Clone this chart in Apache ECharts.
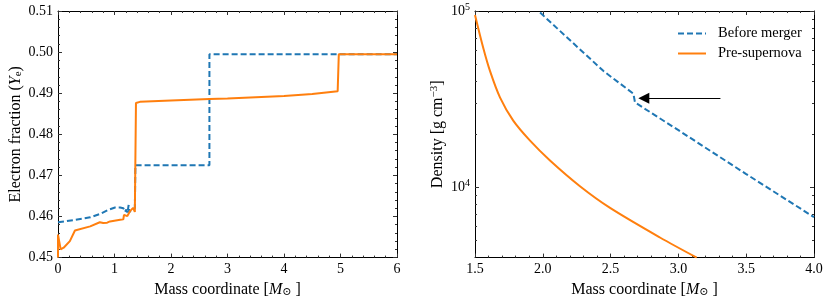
<!DOCTYPE html>
<html><head><meta charset="utf-8">
<script src="https://cdn.jsdelivr.net/npm/echarts@6/dist/echarts.min.js"></script>
<style>html,body{margin:0;padding:0;background:#fff}#c{width:831px;height:303px}</style>
</head><body><div id="c"></div>
<script>
// ---- Data ----
const yeBeforeMerger = [
  [0,0.4586],[0.27,0.4591],[0.57,0.4598],[0.74,0.4606],[0.89,0.4616],[1.01,0.4622],[1.10,0.4622],
  [1.156,0.4620],[1.186,0.4611],[1.21,0.4617],[1.23,0.4609],[1.25,0.4628],[1.26,0.4610],
  [1.30,0.4617],[1.36,0.4620],[1.37,0.4725],[2.68,0.4725],[2.68,0.4995],[6,0.4995]
];
const yePreSupernova = [
  [0,0.4500],[0,0.4556],[0.047,0.4520],[0.10,0.4524],[0.21,0.4540],[0.30,0.4566],[0.57,0.4576],
  [0.74,0.4586],[0.80,0.4584],[0.87,0.4585],[0.92,0.4588],[1.10,0.4592],[1.156,0.4593],
  [1.168,0.4604],[1.227,0.4601],[1.274,0.4613],[1.30,0.4610],[1.33,0.4621],[1.36,0.4611],
  [1.37,0.4615],[1.38,0.4876],[1.45,0.4879],[2.0,0.4882],[2.68,0.4886],[3.0,0.4887],
  [4.0,0.4893],[4.5,0.4898],[4.95,0.4905],[4.97,0.4995],[6,0.4995]
];
const rhoBeforeMerger = [
  [1.98,98000],[2.10,80500],[2.26,62000],[2.45,45500],[2.668,34000],[2.68,30300],
  [3.0,21100],[3.5,11900],[4.0,6780]
];
const rhoPreSupernova = [
  [1.50,95000],[1.561,61700],[1.611,45600],[1.684,32400],[1.782,23900],
  [1.906,18400],[2.053,14200],[2.274,10150],[2.496,7650],[2.864,5200],[3.135,4000]
];
const arrowFrom = [3.31, 32000];
const arrowTo = [2.745, 32000];
const yeTicks = {min:0.45, max:0.51, interval:0.01};
const massTicksLeft = {min:0, max:6, interval:1};
const massTicksRight = {min:1.5, max:4.0, interval:0.5};
const rhoRange = {min:4000, max:100000};
const rhoMajor = [10000, 100000];
const rhoMinor = [5000,6000,7000,8000,9000,20000,30000,40000,50000,60000,70000,80000,90000];
const names = ['Before merger','Pre-supernova'];

// ---- Styles ----
const FONT = "'Liberation Serif','DejaVu Serif',serif";
const BLUE = '#1f77b4', ORANGE = '#ff7f0e';
const TICKC = '#333';
function axisLine(){ return {show:true, onZero:false, lineStyle:{color:'#000', width:1}}; }
function majorTick(){ return {show:true, inside:true, length:4, lineStyle:{color:TICKC, width:1}}; }
function minorTick(){ return {show:true, splitNumber:5, length:2, lineStyle:{color:TICKC, width:1}}; }
function tickLabel(extra){ return Object.assign({show:true, color:'#000', fontFamily:FONT, fontSize:14, margin:5}, extra||{}); }
function nameStyle(){ return {color:'#000', fontFamily:FONT, fontSize:16,
  rich:{i:{fontFamily:FONT,fontSize:16,fontStyle:'italic',color:'#000'},
        sub:{fontFamily:FONT,fontSize:11,color:'#000',verticalAlign:'bottom',padding:[6,0,0,0]},
        sup:{fontFamily:FONT,fontSize:11,color:'#000',verticalAlign:'top',padding:[0,0,6,0]}}}; }
const massName = 'Mass coordinate [{i|M}{sub|\u2299} ]';

function valX(grid, r, pos, show, fmt){
  return {type:'value', gridIndex:grid, position:pos, min:r.min, max:r.max, interval:r.interval,
    axisLine:axisLine(), axisTick:majorTick(), minorTick:minorTick(), splitLine:{show:false},
    axisLabel: show ? tickLabel({formatter:fmt}) : {show:false},
    name: show ? massName : '', nameLocation:'middle', nameGap:22, nameTextStyle:nameStyle()};
}
function logMinorY(pos){
  return {type:'log', gridIndex:1, position:pos, min:rhoRange.min, max:rhoRange.max, logBase:10,
     axisLine:{show:false}, splitLine:{show:false}, minorTick:{show:false},
     axisTick:{show:true, inside:true, length:2, customValues:rhoMinor, lineStyle:{color:TICKC,width:1}},
     axisLabel:{show:false}};
}

const option = {
  animation:false,
  backgroundColor:'#fff',
  grid:[
    {left:58, right:434, top:11, bottom:43},
    {left:475, right:17, top:11, bottom:43}
  ],
  legend:{
    data:names, orient:'vertical', left:672, top:21, itemWidth:28, itemHeight:12, itemGap:5,
    itemStyle:{opacity:0},
    textStyle:{fontFamily:FONT, fontSize:14.5, color:'#000', padding:[0,0,0,7]}
  },
  xAxis:[
    valX(0, massTicksLeft, 'bottom', true, v=>String(v)),
    valX(0, massTicksLeft, 'top', false),
    valX(1, massTicksRight, 'bottom', true, v=>v.toFixed(1)),
    valX(1, massTicksRight, 'top', false)
  ],
  yAxis:[
    {type:'value', gridIndex:0, position:'left', min:yeTicks.min, max:yeTicks.max, interval:yeTicks.interval,
     axisLine:axisLine(), axisTick:majorTick(), minorTick:minorTick(), splitLine:{show:false},
     axisLabel:tickLabel({formatter:v=>v.toFixed(2)}),
     name:'Electron fraction ({i|Y}{sub|e})', nameLocation:'middle', nameGap:34, nameTextStyle:nameStyle()},
    {type:'value', gridIndex:0, position:'right', min:yeTicks.min, max:yeTicks.max, interval:yeTicks.interval,
     axisLine:axisLine(), axisTick:majorTick(), minorTick:minorTick(), splitLine:{show:false}, axisLabel:{show:false}},
    {type:'log', gridIndex:1, position:'left', min:rhoRange.min, max:rhoRange.max, logBase:10,
     axisLine:axisLine(), splitLine:{show:false}, minorTick:{show:false},
     axisTick:Object.assign(majorTick(), {customValues:rhoMajor}),
     axisLabel:tickLabel({customValues:rhoMajor,
        formatter:v=>'10{s|'+Math.round(Math.log10(v))+'}',
        rich:{s:{fontFamily:FONT,fontSize:10,color:'#000',verticalAlign:'top',padding:[0,0,8,0]}}}),
     name:'Density [g cm{sup|\u22123}]', nameLocation:'middle', nameGap:29, nameTextStyle:nameStyle()},
    {type:'log', gridIndex:1, position:'right', min:rhoRange.min, max:rhoRange.max, logBase:10,
     axisLine:axisLine(), splitLine:{show:false}, minorTick:{show:false},
     axisTick:Object.assign(majorTick(), {customValues:rhoMajor}), axisLabel:{show:false}},
    logMinorY('left'),
    logMinorY('right')
  ],
  series:[
    {name:names[0], type:'line', xAxisIndex:0, yAxisIndex:0, data:yeBeforeMerger, showSymbol:false, symbol:'none',
     lineStyle:{color:BLUE, width:2, type:[6,3]}, itemStyle:{color:BLUE}},
    {name:names[1], type:'line', xAxisIndex:0, yAxisIndex:0, data:yePreSupernova, showSymbol:false, symbol:'none',
     lineStyle:{color:ORANGE, width:2}, itemStyle:{color:ORANGE}},
    {name:names[0], type:'line', xAxisIndex:2, yAxisIndex:2, data:rhoBeforeMerger, showSymbol:false, symbol:'none',
     lineStyle:{color:BLUE, width:2, type:[6,3]}, itemStyle:{color:BLUE},
     markLine:{silent:true, animation:false, symbol:['none','triangle'], symbolSize:11,
       label:{show:false}, emphasis:{disabled:true},
       lineStyle:{color:'#000', width:1, type:'solid'},
       data:[[{coord:arrowFrom},{coord:arrowTo}]]}},
    {name:names[1], type:'line', xAxisIndex:2, yAxisIndex:2, data:rhoPreSupernova, showSymbol:false, symbol:'none',
     smooth:0.3, lineStyle:{color:ORANGE, width:2}, itemStyle:{color:ORANGE}}
  ]
};
const chart = echarts.init(document.getElementById('c'), null, {renderer:'canvas'});
chart.setOption(option);
</script></body></html>
